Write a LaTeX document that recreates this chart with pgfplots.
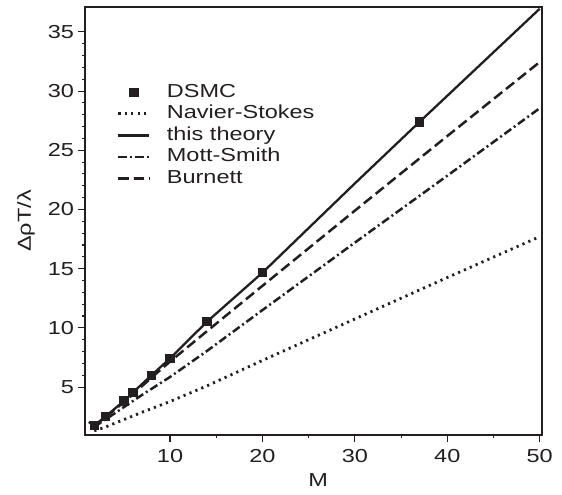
\documentclass[border=0pt]{standalone}
\usepackage{fontspec}
\setmainfont{Liberation Sans}
\usepackage{graphicx}
\usepackage{pgfplots}
\pgfplotsset{compat=1.18}
\definecolor{ink}{RGB}{35,31,32}
\newcommand{\wide}[1]{\scalebox{1.25}[1]{#1}}

\begin{document}
\begin{tikzpicture}
\path[use as bounding box] (0,0) rectangle (281pt,247pt);
\begin{axis}[
    at={(42.5pt,29.5pt)}, anchor=south west,
    scale only axis, width=228.5pt, height=214pt,
    xmin=0.8, xmax=50.25, ymin=0.95, ymax=37.1,
    xtick={10,20,30,40,50}, ytick={5,10,...,35},
    minor x tick num=1, minor y tick num=4,
    tick align=outside, tick pos=left,
    major tick length=3.5pt, minor tick length=1.7pt,
    tick style={ink, line width=0.55pt},
    axis line style={ink, line width=0.7pt},
    /pgf/number format/assume math mode=true,
    xticklabel={\wide{\pgfmathprintnumber{\tick}}},
    yticklabel={\wide{\pgfmathprintnumber{\tick}}},
    yticklabel style={xshift=1.5pt},
    tick label style={font=\fontsize{9.4}{11}\selectfont, text=ink},
    label style={font=\fontsize{9.4}{11}\selectfont, text=ink},
    xlabel={\wide{M}}, ylabel={\wide{ΔρT/λ}},
    xlabel style={at={(axis description cs:0.51,-0.105)}, anchor=center},
    ylabel style={at={(axis description cs:-0.129,0.5)}, anchor=center},
    legend style={at={(axis cs:4.23,30.83)}, anchor=north west,
        draw=none, fill=none, inner sep=0pt, column sep=6pt,
        font=\fontsize{9.4}{11}\selectfont, text=ink,
        nodes={inner ysep=0.875pt, text height=7pt, text depth=2pt}},
    legend cell align=left,
    legend image code/.code={\draw[mark repeat=2,mark phase=2,#1]
        plot coordinates {(0pt,0pt)(7.75pt,0pt)(15.5pt,0pt)};},
]
% DSMC
\addplot[only marks, mark=square*, mark size=2.1pt, ink] coordinates {
    (1.8,1.75) (3,2.5) (5,3.82) (6,4.55) (8,5.99) (10,7.42)
    (14,10.52) (20,14.66) (37,27.4)
};
\addlegendentry{\wide{DSMC}}
% Navier-Stokes
\addplot[ink, line width=1.4pt, dash pattern=on 1.1pt off 2.1pt] coordinates {
    (1.8,1.3) (3,1.62) (5,2.25) (7,2.88) (10,3.78) (14,5.1)
    (20,7.25) (30,10.75) (40,14.25) (50,17.7)
};
\addlegendentry{\wide{Navier-Stokes}}
% this theory
\addplot[ink, line width=1.15pt] coordinates {
    (1.2,2.05) (1.8,1.75) (3,2.5) (5,3.82) (6,4.55) (8,6.0) (10,7.42)
    (14,10.52) (20,14.66) (30,22.2) (37,27.4) (40,29.6) (50,36.95)
};
\addlegendentry{\wide{this theory}}
% Mott-Smith
\addplot[ink, line width=1.25pt, dash pattern=on 4.2pt off 1.6pt on 1pt off 1.6pt] coordinates {
    (1.8,1.65) (3,2.25) (5,3.3) (7,4.35) (10,5.85) (14,8.05)
    (20,11.5) (30,17.2) (40,22.85) (50,28.55)
};
\addlegendentry{\wide{Mott-Smith}}
% Burnett
\addplot[ink, line width=1.25pt, dash pattern=on 5.2pt off 2.4pt] coordinates {
    (1.8,1.72) (3,2.45) (5,3.72) (6,4.4) (8,5.8) (10,7.15) (14,9.72)
    (20,13.55) (30,19.9) (40,26.2) (50,32.45)
};
\addlegendentry{\wide{Burnett}}
\end{axis}
\end{tikzpicture}
\end{document}
